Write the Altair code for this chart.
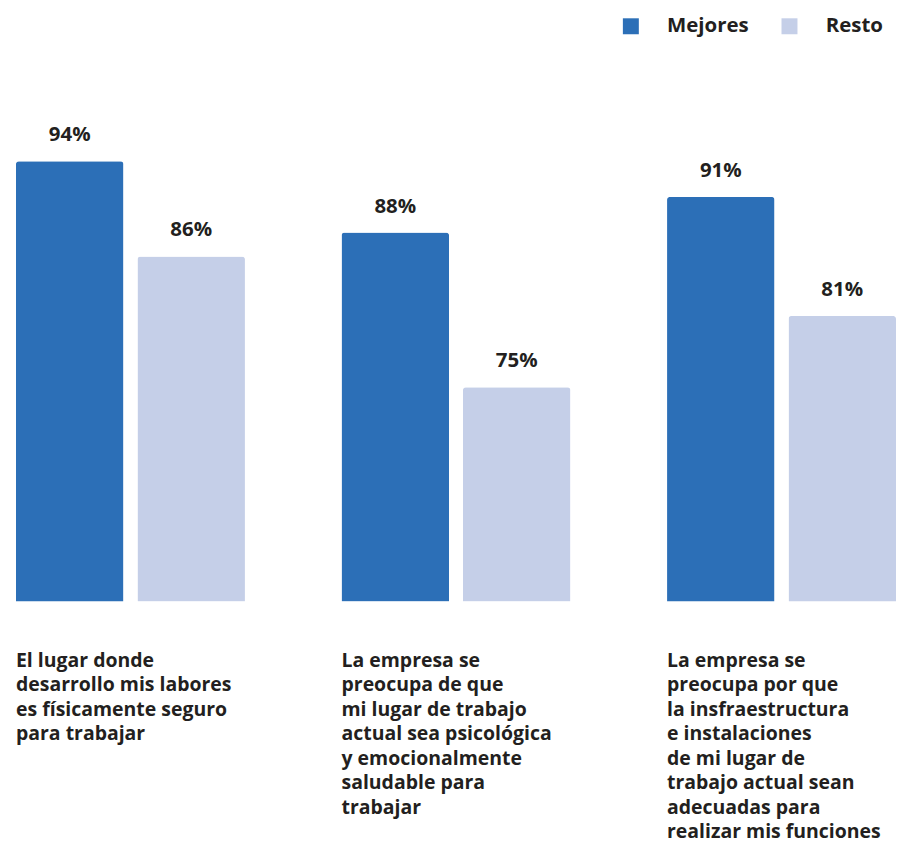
import altair as alt
import pandas as pd

categories = [
    "El lugar donde|desarrollo mis labores|es físicamente seguro|para trabajar",
    "La empresa se|preocupa de que|mi lugar de trabajo|actual sea psicológica|y emocionalmente|saludable para|trabajar",
    "La empresa se|preocupa por que|la insfraestructura|e instalaciones|de mi lugar  de|trabajo actual sean|adecuadas para|realizar mis funciones",
]
series = ["Mejores", "Resto"]
mejores = [94, 88, 91]
resto = [86, 75, 81]
colors = ["#2C6FB7", "#C5CFE8"]

rows = []
for c, m, r in zip(categories, mejores, resto):
    rows.append({"cat": c, "serie": "Mejores", "valor": m, "label": f"{m}%"})
    rows.append({"cat": c, "serie": "Resto", "valor": r, "label": f"{r}%"})
df = pd.DataFrame(rows)

FONT = "Open Sans"
TXT = "#231F20"
W = 882
P_IN = 97 / 327
BAND = W / (3 - P_IN) * (1 - P_IN)

x_enc = alt.X(
    "cat:N",
    sort=categories,
    scale=alt.Scale(paddingInner=P_IN, paddingOuter=0),
    axis=alt.Axis(
        title=None,
        domain=False,
        ticks=False,
        grid=False,
        labelAngle=0,
        labelAlign="left",
        labelBaseline="top",
        labelOffset=-BAND / 2,
        labelPadding=50,
        labelExpr="split(datum.label, '|')",
        labelFont=FONT,
        labelFontWeight="bold",
        labelFontSize=19.5,
        labelLineHeight=24.5,
        labelColor=TXT,
        labelLimit=0,
        labelOverlap=False,
        labelFlush=False,
    ),
)
xoff = alt.XOffset(
    "serie:N",
    sort=series,
    scale=alt.Scale(paddingInner=14 / 122, paddingOuter=0),
)
y_enc = alt.Y(
    "valor:Q",
    scale=alt.Scale(domain=[57, 100], zero=False, clamp=True),
    axis=None,
)
color_enc = alt.Color(
    "serie:N",
    sort=series,
    scale=alt.Scale(domain=series, range=colors),
    legend=alt.Legend(
        title=None,
        orient="none",
        legendX=606,
        legendY=-74,
        direction="horizontal",
        symbolType="square",
        symbolSize=256,
        symbolStrokeWidth=0,
        symbolOpacity=1,
        labelFont=FONT,
        labelFontWeight="bold",
        labelFontSize=20.5,
        labelColor=TXT,
        labelOffset=26,
        columnPadding=30,
    ),
)

base = alt.Chart(df)
bars = base.mark_bar(cornerRadiusTopLeft=3, cornerRadiusTopRight=3).encode(
    x=x_enc, xOffset=xoff, y=y_enc, color=color_enc
)
labels = base.mark_text(
    font=FONT, fontWeight="bold", fontSize=20.5, color=TXT, dy=-20, baseline="alphabetic"
).encode(x=x_enc, xOffset=xoff, y=y_enc, text="label:N")

chart = (
    alt.layer(bars, labels)
    .properties(
        width=W,
        height=513,
        autosize=alt.AutoSizeParams(type="none"),
        padding={"top": 81, "left": 8, "right": 0, "bottom": 243},
        view=alt.ViewBackground(stroke="transparent", strokeWidth=0),
    )
    .configure_view(stroke="transparent", strokeWidth=0)
    .configure(background="white")
)

chart.save("out.html", embed_options={"renderer": "svg", "actions": False})
